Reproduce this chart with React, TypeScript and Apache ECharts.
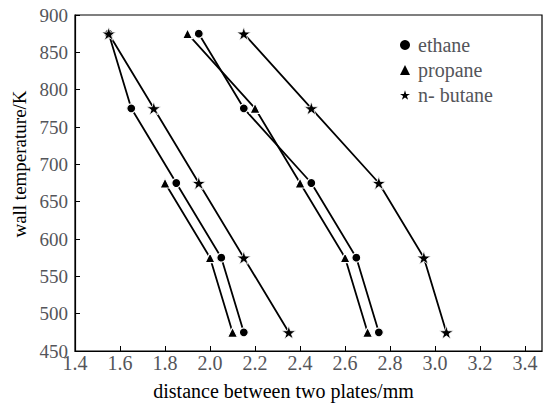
import React, { useEffect, useRef } from "react";
import * as echarts from "echarts";

const temps = [875, 775, 675, 575, 475];
const ethaneA = [1.55, 1.65, 1.85, 2.05, 2.15];
const propaneA = [null, null, 1.8, 2.0, 2.1];
const butaneA = [1.55, 1.75, 1.95, 2.15, 2.35];
const ethaneB = [1.95, 2.15, 2.45, 2.65, 2.75];
const propaneB = [1.9, 2.2, 2.4, 2.6, 2.7];
const butaneB = [2.15, 2.45, 2.75, 2.95, 3.05];
const legendNames = ["ethane", "propane", "n- butane"];

const STAR =
  "path://M100,0L122.45,69.1L195.1,69.1L136.33,111.8L158.8,180.9L100,138.2L41.2,180.9L63.67,111.8L4.9,69.1L77.55,69.1Z";
const FONT = "Liberation Serif";

function pairs(xs: (number | null)[]) {
  const out: number[][] = [];
  xs.forEach((x, i) => {
    if (x !== null) out.push([x, temps[i]]);
  });
  return out;
}

function mk(name: string, xs: (number | null)[], symbol: string, size: number, bw: number) {
  return {
    type: "line",
    name,
    data: pairs(xs),
    symbol,
    symbolSize: size,
    symbolKeepAspect: true,
    lineStyle: { color: "#000", width: 1.8 },
    itemStyle: { color: "#000", borderColor: "#fff", borderWidth: bw },
    z: 3,
  };
}

export default function App() {
  const ref = useRef<HTMLDivElement>(null);
  useEffect(() => {
    if (!ref.current) return;
    document.body.style.fontFamily = FONT;
    const chart = echarts.init(ref.current, null, { renderer: "svg" });
    chart.setOption({
      animation: false,
      backgroundColor: "#fff",
      grid: {
        left: 75,
        right: 4,
        top: 15,
        bottom: 53,
        show: true,
        borderColor: "#000",
        borderWidth: 1.2,
      },
      legend: {
        orient: "vertical",
        left: 395,
        top: 30,
        itemWidth: 10,
        itemHeight: 10,
        itemGap: 5,
        itemStyle: { borderWidth: 0, color: "#000" },
        data: [
          { name: legendNames[0], icon: "circle" },
          { name: legendNames[1], icon: "triangle" },
          { name: legendNames[2], icon: STAR },
        ],
        textStyle: {
          fontFamily: FONT,
          fontSize: 20,
          lineHeight: 20,
          padding: [0, 0, 0, 3],
        },
      },
      xAxis: {
        type: "value",
        min: 1.4,
        max: 3.475,
        interval: 0.2,
        name: "distance between two plates/mm",
        nameLocation: "middle",
        nameGap: 30,
        nameTextStyle: { fontFamily: FONT, fontSize: 20, padding: [0, 50, 0, 0] },
        axisLine: { lineStyle: { color: "#000", width: 1.2 } },
        axisTick: { inside: true, length: 5, lineStyle: { color: "#000" } },
        axisLabel: {
          fontFamily: FONT,
          fontSize: 20,
          margin: 2,
          showMaxLabel: false,
          formatter: (v: number) => v.toFixed(1),
        },
        splitLine: { lineStyle: { color: "rgba(0,0,0,0)" } },
      },
      yAxis: {
        type: "value",
        min: 450,
        max: 900,
        interval: 50,
        name: "wall temperature/K",
        nameLocation: "middle",
        nameGap: 29,
        nameTextStyle: { fontFamily: FONT, fontSize: 19, padding: [0, 0, 0, 38] },
        axisLine: { lineStyle: { color: "#000", width: 1.2 } },
        axisTick: { inside: true, length: 5, lineStyle: { color: "#000" } },
        axisLabel: { fontFamily: FONT, fontSize: 19, margin: 7, padding: [0, 0, 3, 0] },
        splitLine: { lineStyle: { color: "rgba(0,0,0,0)" } },
      },
      series: [
        mk(legendNames[0], ethaneA, "circle", 9, 1.2),
        mk(legendNames[1], propaneA, "triangle", 10, 1.2),
        mk(legendNames[2], butaneA, STAR, 14, 0.8),
        mk(legendNames[0], ethaneB, "circle", 9, 1.2),
        mk(legendNames[1], propaneB, "triangle", 10, 1.2),
        mk(legendNames[2], butaneB, STAR, 14, 0.8),
      ],
    });
    return () => chart.dispose();
  }, []);
  return (
    <div
      ref={ref}
      style={{ position: "fixed", left: 0, top: 0, width: 546, height: 406, background: "#fff" }}
    />
  );
}
